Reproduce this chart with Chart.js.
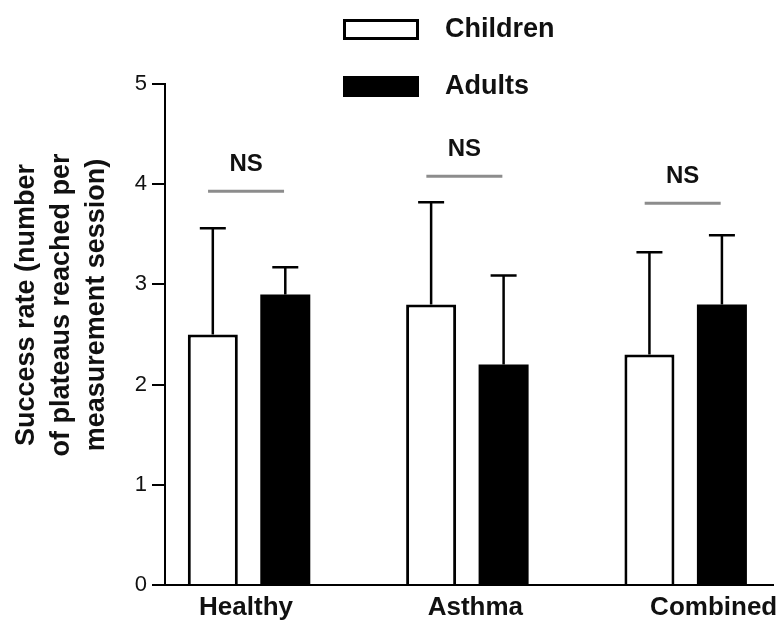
<!DOCTYPE html>
<html>
<head>
<meta charset="utf-8">
<title>Success rate</title>
<script src="https://cdn.jsdelivr.net/npm/chart.js@4.4.1/dist/chart.umd.min.js"></script>
<style>
  html, body { margin: 0; padding: 0; background: #fff; }
</style>
</head>
<body>
<canvas id="successChart" width="780" height="624"></canvas>
<script>
const groups = ['Healthy', 'Asthma', 'Combined'];
const childrenMean = [2.5, 2.8, 2.3];
const childrenSD = [1.06, 1.02, 1.02];
const adultsMean = [2.9, 2.2, 2.8];
const adultsSD = [0.27, 0.89, 0.69];
const nsLevel = [3.93, 4.08, 3.81];
const yTitle = ['Success rate (number', 'of plateaus reached per', 'measurement session)'];

const FONT = '"Liberation Sans", Arial, sans-serif';

const toPoints = (means, sd) => means.map((v, i) => ({ x: i + 1, y: v, sd: sd[i] }));

// error whiskers, NS brackets, group labels, legend and y title
const extras = {
    id: 'extras',
    afterDatasetsDraw(chart) {
        const ctx = chart.ctx;
        const xs = chart.scales.x;
        const ys = chart.scales.y;
        ctx.save();

        chart.data.datasets.forEach((ds, di) => {
            chart.getDatasetMeta(di).data.forEach((bar, i) => {
                const p = ds.data[i];
                const top = ys.getPixelForValue(p.y + p.sd);
                ctx.strokeStyle = '#000';
                ctx.lineWidth = 2.5;
                ctx.beginPath();
                ctx.moveTo(bar.x, bar.y);
                ctx.lineTo(bar.x, top);
                ctx.moveTo(bar.x - 13, top);
                ctx.lineTo(bar.x + 13, top);
                ctx.stroke();
            });
        });

        groups.forEach((g, i) => {
            const cx = xs.getPixelForValue(i + 1) - 3;
            const ly = ys.getPixelForValue(nsLevel[i]);
            ctx.strokeStyle = '#8c8c8c';
            ctx.lineWidth = 3;
            ctx.beginPath();
            ctx.moveTo(cx - 38, ly);
            ctx.lineTo(cx + 38, ly);
            ctx.stroke();
            ctx.fillStyle = '#111';
            ctx.font = 'bold 24px ' + FONT;
            ctx.textAlign = 'center';
            ctx.textBaseline = 'middle';
            ctx.fillText('NS', cx, ly - 27);
        });
        ctx.restore();
    },
    afterDraw(chart) {
        const ctx = chart.ctx;
        const xs = chart.scales.x;
        const labelShift = [-3, 8, 28];
        ctx.save();
        ctx.fillStyle = '#111';
        ctx.textAlign = 'center';
        ctx.textBaseline = 'middle';
        ctx.font = 'bold 26px ' + FONT;
        groups.forEach((g, i) => {
            ctx.fillText(g, xs.getPixelForValue(i + 1) + labelShift[i], 608);
        });

        // legend, stacked
        chart.data.datasets.forEach((ds, i) => {
            const cy = 29 + i * 57;
            ctx.fillStyle = ds.backgroundColor;
            ctx.fillRect(343, cy - 10, 76, 21);
            if (ds.borderWidth) {
                ctx.strokeStyle = ds.borderColor;
                ctx.lineWidth = 3;
                ctx.strokeRect(344.5, cy - 8.5, 73, 18);
            }
            ctx.fillStyle = '#111';
            ctx.textAlign = 'left';
            ctx.font = 'bold 27px ' + FONT;
            ctx.fillText(ds.label, 445, cy + 1);
        });

        // y axis title
        ctx.font = 'bold 27px ' + FONT;
        ctx.textAlign = 'center';
        yTitle.forEach((line, i) => {
            ctx.save();
            ctx.translate(27 + i * 35, 305);
            ctx.rotate(-Math.PI / 2);
            ctx.fillText(line, 0, 0);
            ctx.restore();
        });
        ctx.restore();
    }
};

new Chart(document.getElementById('successChart'), {
    type: 'bar',
    data: {
        datasets: [{
            label: 'Children',
            data: toPoints(childrenMean, childrenSD),
            backgroundColor: '#ffffff',
            borderColor: '#000000',
            borderWidth: 3,
            categoryPercentage: 0.664,
            barPercentage: 0.69
        }, {
            label: 'Adults',
            data: toPoints(adultsMean, adultsSD),
            backgroundColor: '#000000',
            borderColor: '#000000',
            borderWidth: 0,
            categoryPercentage: 0.664,
            barPercentage: 0.69
        }]
    },
    options: {
        responsive: false,
        animation: false,
        layout: { padding: { top: 84, right: 7, left: 0, bottom: 0 } },
        plugins: {
            legend: { display: false },
            tooltip: { enabled: false }
        },
        scales: {
            x: {
                type: 'linear',
                offset: false,
                min: 0.615,
                max: 3.4,
                afterBuildTicks: s => { s.ticks = groups.map((g, i) => ({ value: i + 1 })); },
                afterFit: s => { s.height = 39; },
                ticks: { display: false },
                grid: { display: false, offset: false },
                border: { display: true, color: '#000', width: 2 }
            },
            y: {
                min: 0,
                max: 5,
                afterFit: s => { s.width = 165; },
                ticks: {
                    stepSize: 1,
                    color: '#111',
                    padding: 5,
                    font: { family: FONT, size: 22 }
                },
                grid: {
                    display: true,
                    drawOnChartArea: false,
                    drawTicks: true,
                    tickLength: 13,
                    color: '#000',
                    lineWidth: 2
                },
                border: { display: true, color: '#000', width: 2 }
            }
        }
    },
    plugins: [extras]
});
</script>
</body>
</html>
